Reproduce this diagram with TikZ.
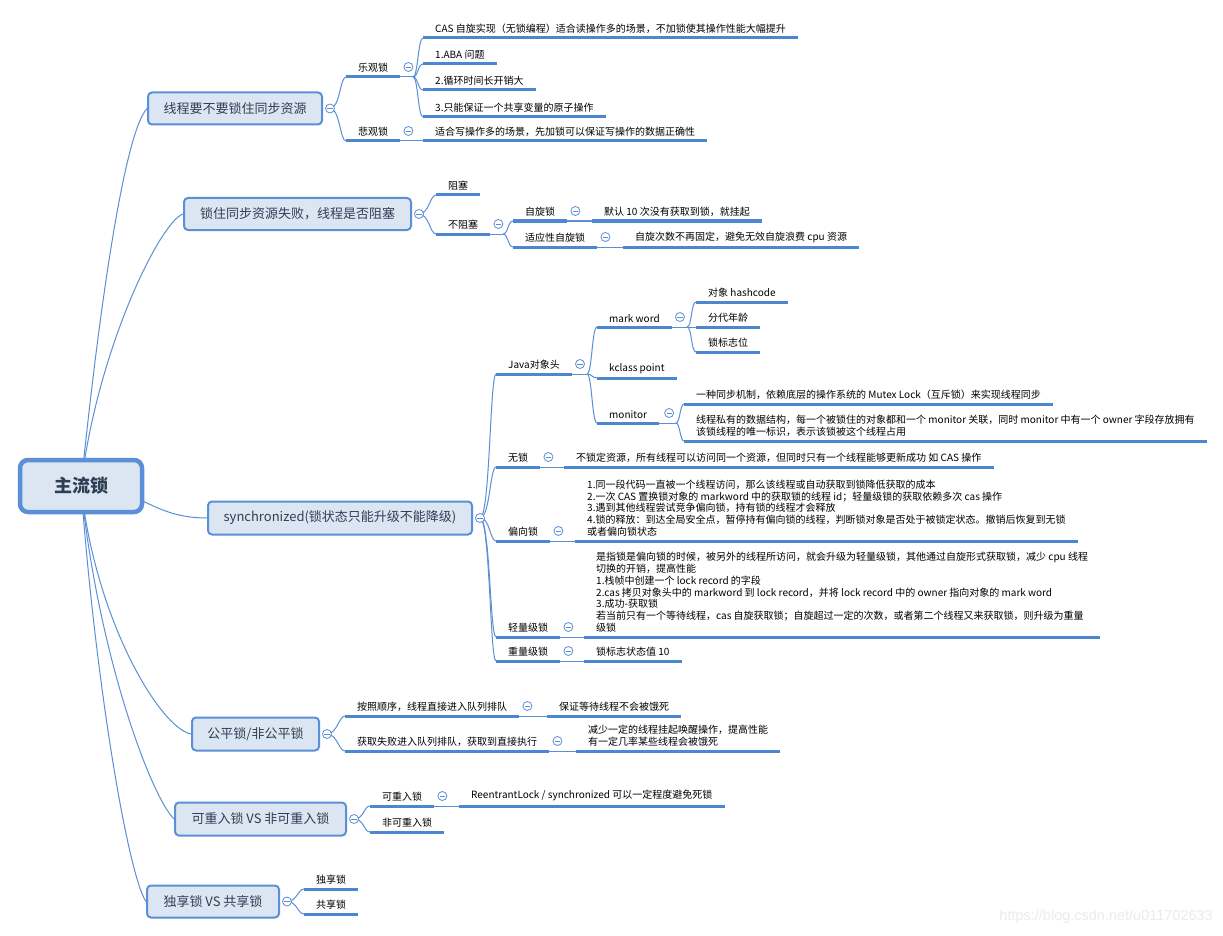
\documentclass[tikz,border=0pt]{standalone}
\usepackage{fontspec}
\setmainfont{Noto Sans CJK SC}
\newfontfamily\wmfont{Liberation Sans}
\usetikzlibrary{calc}
\definecolor{linec}{HTML}{5B8FD5}
\definecolor{ulc}{HTML}{4C87D2}
\definecolor{boxfill}{HTML}{DCE6F2}
\definecolor{boxdraw}{HTML}{5B8FD8}
\definecolor{boxtext}{HTML}{2E3F55}
\definecolor{wmc}{HTML}{EBEBEB}
\pgfdeclarelayer{back}
\pgfdeclarelayer{bg}
\pgfsetlayers{back,bg,main}
\tikzset{
  uline/.style={append after command={\pgfextra{\let\LN\tikzlastnode
      \draw[ulc, line width=3pt] (\LN.south west) -- (\LN.south east);}}},
  leaf/.style={anchor=south west, inner xsep=12pt, inner ysep=4.5pt, align=left,
      font=\fontsize{10}{11.8}\selectfont, text=black, uline},
  topic/.style={rectangle, rounded corners=4pt, draw=boxdraw, line width=2pt, fill=boxfill,
      text=boxtext, font=\fontsize{13}{15}\selectfont, minimum height=32pt, inner sep=0pt},
  rootbox/.style={rectangle, rounded corners=8pt, draw=boxdraw, line width=4.5pt, fill=boxfill,
      text=boxtext, font=\fontsize{18}{20}\selectfont\bfseries, minimum width=122pt, minimum height=52pt},
  coll/.style={circle, draw=linec, fill=white, line width=0.8pt, minimum size=9pt, inner sep=0pt,
      path picture={\draw[linec, line width=0.8pt] ([xshift=-2.6pt]path picture bounding box.center) -- ([xshift=2.6pt]path picture bounding box.center);}},
  conn/.style={linec, line width=1pt},
}
\begin{document}
\begin{tikzpicture}[x=1pt,y=-1pt]
\begin{pgfonlayer}{back}
\fill[white] (0,0) rectangle (1223,936);
\end{pgfonlayer}
\useasboundingbox (0,0) rectangle (1223,936);

% root
\node[rootbox] (root) at (81,486) {主流锁};

% ---------- group 1
\node[topic, minimum width=174pt] (t1) at (235,108.5) {线程要不要锁住同步资源};
\node[coll] (c1) at ($(t1.east)+(7,0)$) {};
\node[leaf] (s1) at (346,77) {乐观锁};
\node[leaf] (s2) at (346,141) {悲观锁};
\node[coll] (cs1) at ($(s1.south east)+(8,-10)$) {};
\node[coll] (cs2) at ($(s2.south east)+(8,-10)$) {};
\node[leaf] (l1a) at (423,38) {CAS 自旋实现（无锁编程）适合读操作多的场景，不加锁使其操作性能大幅提升};
\node[leaf] (l1b) at (423,64) {1.ABA 问题};
\node[leaf] (l1c) at (423,90) {2.循环时间长开销大};
\node[leaf] (l1d) at (423,117) {3.只能保证一个共享变量的原子操作};
\node[leaf] (l1e) at (423,141) {适合写操作多的场景，先加锁可以保证写操作的数据正确性};
\coordinate (f1) at ($(s1.south east -| l1a.south west)+(-10,0)$);

% ---------- group 2
\node[topic, minimum width=227pt] (t2) at (297.5,214) {锁住同步资源失败，线程是否阻塞};
\node[coll] (c2) at ($(t2.east)+(7,0)$) {};
\node[leaf] (s3) at (436,195) {阻塞};
\node[leaf] (s4) at (436,234) {不阻塞};
\node[coll] (cs4) at ($(s4.south east)+(8,-10)$) {};
\node[leaf] (s5) at (513,221) {自旋锁};
\node[leaf] (s6) at (513,247) {适应性自旋锁};
\node[coll] (cs5) at ($(s5.south east)+(8,-10)$) {};
\node[coll] (cs6) at ($(s6.south east)+(8,-10)$) {};
\node[leaf] (l2a) at (592,221) {默认 10 次没有获取到锁，就挂起};
\node[leaf] (l2b) at (623,247) {自旋次数不再固定，避免无效自旋浪费 cpu 资源};
\coordinate (f4) at ($(s4.south east -| s5.south west)+(-10,0)$);

% ---------- group 3
\node[topic, minimum width=264pt, minimum height=33pt] (t3) at (340,518) {synchronized(锁状态只能升级不能降级)};
\node[coll] (c3) at ($(t3.east)+(7,0)$) {};
\node[leaf] (s7) at (496,374) {Java对象头};
\node[coll] (cs7) at ($(s7.south east)+(8,-10)$) {};
\node[leaf] (s8) at (597,327) {mark word};
\node[coll] (cs8) at ($(s8.south east)+(8,-10)$) {};
\node[leaf] (l3a) at (696,302) {对象 hashcode};
\node[leaf] (l3b) at (696,327) {分代年龄};
\node[leaf] (l3c) at (696,352) {锁标志位};
\node[leaf] (s9) at (597,378) {kclass point};
\node[leaf] (s10) at (597,423) {monitor};
\node[coll] (cs10) at ($(s10.south east)+(10,-10)$) {};
\node[leaf] (l3d) at (684,404) {一种同步机制，依赖底层的操作系统的 Mutex Lock（互斥锁）来实现线程同步};
\node[leaf] (l3e) at (684,441) {线程私有的数据结构，每一个被锁住的对象都和一个 monitor 关联，同时 monitor 中有一个 owner 字段存放拥有\\该锁线程的唯一标识，表示该锁被这个线程占用};
\coordinate (f7) at ($(s7.south east -| s8.south west)+(-10,0)$);
\coordinate (f8) at ($(s8.south east -| l3a.south west)+(-9,0)$);
\coordinate (f10) at ($(s10.south east -| l3d.south west)+(-8,0)$);
\node[leaf] (s11) at (496,467) {无锁};
\node[coll] (cs11) at ($(s11.south east)+(8,-10)$) {};
\node[leaf] (l3f) at (564,467) {不锁定资源，所有线程可以访问同一个资源，但同时只有一个线程能够更新成功 如 CAS 操作};
\node[leaf] (s12) at (496,541) {偏向锁};
\node[coll] (cs12) at ($(s12.south east)+(8,-10)$) {};
\node[leaf] (l3g) at (575,541) {1.同一段代码一直被一个线程访问，那么该线程或自动获取到锁降低获取的成本\\2.一次 CAS 置换锁对象的 markword 中的获取锁的线程 id；轻量级锁的获取依赖多次 cas 操作\\3.遇到其他线程尝试竞争偏向锁，持有锁的线程才会释放\\4.锁的释放：到达全局安全点，暂停持有偏向锁的线程，判断锁对象是否处于被锁定状态。撤销后恢复到无锁\\或者偏向锁状态};
\node[leaf] (s13) at (496,637) {轻量级锁};
\node[coll] (cs13) at ($(s13.south east)+(8,-10)$) {};
\node[leaf] (l3h) at (584,637) {是指锁是偏向锁的时候，被另外的线程所访问，就会升级为轻量级锁，其他通过自旋形式获取锁，减少 cpu 线程\\切换的开销，提高性能\\1.栈帧中创建一个 lock record 的字段\\2.cas 拷贝对象头中的 markword 到 lock record，并将 lock record 中的 owner 指向对象的 mark word\\3.成功-获取锁\\若当前只有一个等待线程，cas 自旋获取锁；自旋超过一定的次数，或者第二个线程又来获取锁，则升级为重量\\级锁};
\node[leaf] (s14) at (496,661) {重量级锁};
\node[coll] (cs14) at ($(s14.south east)+(8,-10)$) {};
\node[leaf] (l3i) at (584,661) {锁标志状态值 10};

% ---------- group 4
\node[topic, minimum width=127pt, minimum height=33pt] (t4) at (255.5,734) {公平锁/非公平锁};
\node[coll] (c4) at ($(t4.east)+(7,0)$) {};
\node[leaf] (s15) at (345,716) {按照顺序，线程直接进入队列排队};
\node[coll] (cs15) at ($(s15.south east)+(8,-10)$) {};
\node[leaf] (l4a) at (547,716) {保证等待线程不会被饿死};
\node[leaf] (s16) at (345,751) {获取失败进入队列排队，获取到直接执行};
\node[coll] (cs16) at ($(s16.south east)+(8,-10)$) {};
\node[leaf] (l4b) at (576,751) {减少一定的线程挂起唤醒操作，提高性能\\有一定几率某些线程会被饿死};

% ---------- group 5
\node[topic, minimum width=171pt, minimum height=33pt] (t5) at (260.5,819) {可重入锁 VS 非可重入锁};
\node[coll] (c5) at ($(t5.east)+(7,0)$) {};
\node[leaf] (s17) at (370,806) {可重入锁};
\node[coll] (cs17) at ($(s17.south east)+(8,-10)$) {};
\node[leaf] (l5a) at (459,806) {ReentrantLock / synchronized 可以一定程度避免死锁};
\node[leaf] (s18) at (370,832) {非可重入锁};

% ---------- group 6
\node[topic, minimum width=132pt] (t6) at (213,901.5) {独享锁 VS 共享锁};
\node[coll] (c6) at ($(t6.east)+(7,0)$) {};
\node[leaf] (s19) at (304,889) {独享锁};
\node[leaf] (s20) at (304,914) {共享锁};

% watermark
\node[anchor=east, text=wmc, font=\wmfont\fontsize{14.5}{16}\selectfont, inner sep=0pt] (wm) at (1213,917) {https://blog.csdn.net/u011702633};

% ---------- connectors
\begin{pgfonlayer}{bg}
\draw[conn] (root.center) .. controls (100,300) and (125,132) .. (t1.west);
\draw[conn] (root.center) .. controls (97,350) and (160,222) .. (t2.west);
\draw[conn] (root.center) .. controls (140,486) and (150,518) .. (t3.west);
\draw[conn] (root.center) .. controls (95,620) and (160,728) .. (t4.west);
\draw[conn] (root.center) .. controls (97,650) and (150,795) .. (t5.west);
\draw[conn] (root.center) .. controls (95,680) and (128,875) .. (t6.west);
% group 1
\foreach \n in {s1,s2} \draw[conn] (c1.center) .. controls +(10,0) and +(-6,0) .. (\n.south west);
\draw[conn] (s1.south east) -- (f1);
\foreach \n in {l1a,l1b,l1c,l1d} \draw[conn] (f1) .. controls +(5,0) and +(-5,0) .. (\n.south west);
\draw[conn] (s2.south east) -- (l1e.south west);
% group 2
\foreach \n in {s3,s4} \draw[conn] (c2.center) .. controls +(10,0) and +(-6,0) .. (\n.south west);
\draw[conn] (s4.south east) -- (f4);
\foreach \n in {s5,s6} \draw[conn] (f4) .. controls +(5,0) and +(-5,0) .. (\n.south west);
\draw[conn] (s5.south east) -- (l2a.south west);
\draw[conn] (s6.south east) -- (l2b.south west);
% group 3
\foreach \n in {s7,s11,s12,s13,s14} \draw[conn] (c3.center) .. controls +(10,0) and +(-6,0) .. (\n.south west);
\draw[conn] (s7.south east) -- (f7);
\foreach \n in {s8,s9,s10} \draw[conn] (f7) .. controls +(5,0) and +(-5,0) .. (\n.south west);
\draw[conn] (s8.south east) -- (f8);
\foreach \n in {l3a,l3b,l3c} \draw[conn] (f8) .. controls +(5,0) and +(-5,0) .. (\n.south west);
\draw[conn] (s10.south east) -- (f10);
\foreach \n in {l3d,l3e} \draw[conn] (f10) .. controls +(4,0) and +(-4,0) .. (\n.south west);
\draw[conn] (s11.south east) -- (l3f.south west);
\draw[conn] (s12.south east) -- (l3g.south west);
\draw[conn] (s13.south east) -- (l3h.south west);
\draw[conn] (s14.south east) -- (l3i.south west);
% group 4
\foreach \n in {s15,s16} \draw[conn] (c4.center) .. controls +(10,0) and +(-6,0) .. (\n.south west);
\draw[conn] (s15.south east) -- (l4a.south west);
\draw[conn] (s16.south east) -- (l4b.south west);
% group 5
\foreach \n in {s17,s18} \draw[conn] (c5.center) .. controls +(10,0) and +(-6,0) .. (\n.south west);
\draw[conn] (s17.south east) -- (l5a.south west);
% group 6
\foreach \n in {s19,s20} \draw[conn] (c6.center) .. controls +(10,0) and +(-6,0) .. (\n.south west);
\end{pgfonlayer}
\end{tikzpicture}
\end{document}
